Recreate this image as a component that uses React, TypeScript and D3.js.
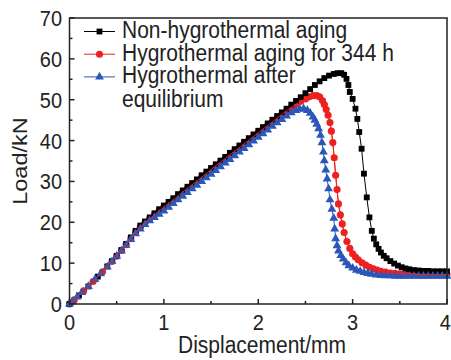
import React from "react";
import * as d3 from "d3";

type Pt = [number, number];

// Load–displacement records (displacement in mm, load in kN)
const nonAged: Pt[] = [
  [0, 0], [0.1, 2.1], [0.2, 4.3], [0.3, 6.7], [0.4, 9.2], [0.45, 10.5], [0.5, 11.8], [0.55, 13.2],
  [0.6, 14.7], [0.65, 16.3], [0.7, 17.9], [0.75, 19.2], [0.8, 20.2], [0.85, 21.2], [0.9, 22.2],
  [0.95, 23.2], [1.0, 24.1], [1.05, 25.0], [1.1, 25.9], [1.15, 26.9], [1.2, 27.8], [1.25, 28.7],
  [1.3, 29.6], [1.35, 30.5], [1.4, 31.5], [1.45, 32.4], [1.5, 33.3], [1.55, 34.2], [1.6, 35.1],
  [1.65, 36.0], [1.7, 37.0], [1.75, 37.9], [1.8, 38.8], [1.85, 39.7], [1.9, 40.6], [1.95, 41.5],
  [2.0, 42.4], [2.05, 43.3], [2.1, 44.2], [2.15, 45.1], [2.2, 46.0], [2.25, 46.9], [2.3, 47.8],
  [2.35, 48.8], [2.4, 49.7], [2.45, 50.6], [2.5, 51.6], [2.55, 52.6], [2.6, 53.6], [2.65, 54.5],
  [2.7, 55.3], [2.75, 55.9], [2.8, 56.3], [2.84, 56.5], [2.88, 56.5], [2.91, 56.1], [2.935, 55.1],
  [2.955, 53.6], [2.97, 51.9], [3.0, 50.2], [3.03, 47.8], [3.05, 45.3], [3.07, 42.1], [3.095, 38.0],
  [3.12, 31.9], [3.15, 26.1], [3.178, 21.2], [3.203, 17.9], [3.225, 16.0], [3.25, 14.6],
  [3.275, 13.5], [3.3, 12.6], [3.33, 11.8], [3.36, 11.2], [3.4, 10.5], [3.44, 9.9], [3.48, 9.4],
  [3.52, 9.0], [3.56, 8.7], [3.6, 8.5], [3.65, 8.3], [3.7, 8.2], [3.75, 8.1], [3.8, 8.1],
  [3.85, 8.0], [3.9, 8.0], [3.95, 8.0], [4.0, 8.0],
];

const aged344h: Pt[] = [
  [0, 0], [0.05, 1.0], [0.15, 3.2], [0.25, 5.5], [0.35, 7.9], [0.45, 10.4], [0.5, 11.7],
  [0.55, 13.1], [0.6, 14.5], [0.65, 16.0], [0.7, 17.5], [0.75, 18.8], [0.8, 19.9], [0.85, 20.9],
  [0.9, 21.8], [0.95, 22.8], [1.0, 23.7], [1.05, 24.6], [1.1, 25.5], [1.15, 26.4], [1.2, 27.4],
  [1.25, 28.3], [1.3, 29.2], [1.35, 30.1], [1.4, 31.0], [1.45, 31.9], [1.5, 32.9], [1.55, 33.8],
  [1.6, 34.7], [1.65, 35.6], [1.7, 36.5], [1.75, 37.4], [1.8, 38.3], [1.85, 39.2], [1.9, 40.1],
  [1.95, 41.0], [2.0, 41.9], [2.05, 42.8], [2.1, 43.7], [2.15, 44.6], [2.2, 45.5], [2.25, 46.4],
  [2.3, 47.3], [2.35, 48.1], [2.4, 48.9], [2.45, 49.6], [2.5, 50.2], [2.54, 50.7], [2.58, 51.0],
  [2.62, 51.0], [2.65, 50.7], [2.68, 49.8], [2.7, 48.8], [2.72, 47.6], [2.74, 46.2], [2.76, 44.4],
  [2.775, 42.3], [2.79, 39.5], [2.805, 35.8], [2.82, 31.5], [2.835, 28.0], [2.85, 24.5],
  [2.87, 21.8], [2.89, 19.6], [2.91, 17.5], [2.94, 15.3], [2.97, 13.6], [3.0, 12.3], [3.03, 11.5],
  [3.06, 10.8], [3.1, 10.1], [3.14, 9.5], [3.18, 9.0], [3.22, 8.6], [3.26, 8.3], [3.3, 8.0],
  [3.35, 7.8], [3.4, 7.6], [3.45, 7.5], [3.5, 7.4], [3.55, 7.35], [3.6, 7.3], [3.65, 7.3],
  [3.7, 7.2], [3.75, 7.2], [3.8, 7.2], [3.85, 7.2], [3.9, 7.2], [3.95, 7.2], [4.0, 7.2],
];

const agedEquilibrium: Pt[] = [
  [0, 0], [0.03, 0.6], [0.08, 1.7], [0.13, 2.8], [0.2, 4.3], [0.27, 6.0], [0.33, 7.4], [0.4, 9.1],
  [0.45, 10.4], [0.5, 11.7], [0.55, 13.0], [0.6, 14.4], [0.65, 15.8], [0.7, 17.2], [0.75, 18.4],
  [0.8, 19.5], [0.85, 20.4], [0.9, 21.2], [0.95, 22.0], [1.0, 22.8], [1.05, 23.7], [1.1, 24.6],
  [1.15, 25.5], [1.2, 26.4], [1.25, 27.3], [1.3, 28.2], [1.35, 29.1], [1.4, 30.0], [1.45, 30.9],
  [1.5, 31.8], [1.55, 32.7], [1.6, 33.6], [1.65, 34.5], [1.7, 35.4], [1.75, 36.3], [1.8, 37.2],
  [1.85, 38.1], [1.9, 39.0], [1.95, 39.9], [2.0, 40.8], [2.05, 41.7], [2.1, 42.6], [2.15, 43.5],
  [2.2, 44.4], [2.25, 45.2], [2.3, 46.0], [2.35, 46.8], [2.4, 47.4], [2.44, 47.7], [2.48, 47.8],
  [2.52, 47.4], [2.55, 46.7], [2.58, 45.8], [2.6, 45.0], [2.62, 44.0], [2.64, 42.9], [2.66, 41.3],
  [2.675, 39.5], [2.69, 37.2], [2.7, 35.1], [2.715, 32.8], [2.73, 30.6], [2.745, 28.2],
  [2.76, 25.5], [2.78, 23.2], [2.8, 21.0], [2.81, 18.4], [2.82, 16.0], [2.835, 14.3], [2.85, 13.0],
  [2.875, 11.9], [2.9, 11.0], [2.93, 10.1], [2.96, 9.4], [3.0, 8.8], [3.04, 8.3], [3.08, 8.0],
  [3.12, 7.7], [3.16, 7.5], [3.2, 7.3], [3.25, 7.1], [3.3, 7.0], [3.35, 6.9], [3.4, 6.9],
  [3.45, 6.8], [3.5, 6.8], [3.55, 6.8], [3.6, 6.8], [3.65, 6.8], [3.7, 6.8], [3.75, 6.8],
  [3.8, 6.8], [3.85, 6.8], [3.9, 6.8], [3.95, 6.8], [4.0, 6.8],
];

const seriesNames = [
  ["Non-hygrothermal aging"],
  ["Hygrothermal aging for 344 h"],
  ["Hygrothermal after", "equilibrium"],
];

const xTicks = [0, 1, 2, 3, 4];
const yTicks = [0, 10, 20, 30, 40, 50, 60, 70];

const W = 451;
const H = 360;
const FONT = "'Liberation Sans', Arial, Helvetica, sans-serif";
const STRETCH = 1.12; // glyphs are drawn slightly taller than wide

function Label(props: {
  x: number;
  y: number;
  size: number;
  anchor?: "start" | "middle" | "end";
  rotate?: number;
  children: React.ReactNode;
}) {
  const { x, y, size, anchor = "start", rotate = 0, children } = props;
  return (
    <text
      transform={`translate(${x},${y}) rotate(${rotate}) scale(1,${STRETCH})`}
      textAnchor={anchor}
      fontFamily={FONT}
      fontSize={size}
      fill="#222"
    >
      {children}
    </text>
  );
}

export default function App() {
  const x = d3.scaleLinear().domain([0, 4]).range([69.5, 447]);
  const y = d3.scaleLinear().domain([0, 70]).range([304, 18]);

  const line = d3
    .line<Pt>()
    .x((d) => x(d[0]))
    .y((d) => y(d[1]));

  const series = [
    { data: aged344h, color: "#ee2020", shape: d3.symbolCircle, size: 40, legend: 1 },
    { data: nonAged, color: "#000000", shape: d3.symbolSquare, size: 34, legend: 0 },
    { data: agedEquilibrium, color: "#2a57b8", shape: d3.symbolTriangle, size: 34, legend: 2 },
  ];

  const minorX = d3.range(0.5, 4, 1);
  const minorY = d3.range(5, 70, 10);
  const [x0, x1] = x.range();
  const [y0, y1] = y.range();

  return (
    <svg width={W} height={H} style={{ display: "block", position: "absolute", left: 0, top: 0, background: "#fff" }}>
      {/* curves */}
      {series.map((s, i) => (
        <g key={i}>
          <path d={line(s.data) ?? ""} fill="none" stroke={s.color} strokeWidth={1} />
          {s.data.map((d, j) => (
            <path
              key={j}
              transform={`translate(${x(d[0])},${y(d[1])})`}
              d={d3.symbol().type(s.shape).size(s.size)() ?? ""}
              fill={s.color}
            />
          ))}
        </g>
      ))}
      {/* thin red line stays visible over the bands */}
      <path d={line(aged344h) ?? ""} fill="none" stroke="#ee2020" strokeWidth={1} />

      {/* frame */}
      <rect x={x0} y={y1} width={x1 - x0} height={y0 - y1} fill="none" stroke="#222" strokeWidth={1.5} />

      {/* x ticks */}
      {xTicks.map((t) => (
        <g key={`xt${t}`}>
          <line x1={x(t)} x2={x(t)} y1={y0} y2={y0 - 5} stroke="#222" strokeWidth={1.5} />
          <Label x={t === 4 ? 451 : x(t)} y={330} size={20} anchor={t === 4 ? "end" : "middle"}>
            {t}
          </Label>
        </g>
      ))}
      {minorX.map((t) => (
        <line key={`xm${t}`} x1={x(t)} x2={x(t)} y1={y0} y2={y0 - 3} stroke="#222" strokeWidth={1.5} />
      ))}

      {/* y ticks */}
      {yTicks.map((t) => (
        <g key={`yt${t}`}>
          <line x1={x0} x2={x0 + 5} y1={y(t)} y2={y(t)} stroke="#222" strokeWidth={1.5} />
          <Label x={62} y={y(t) + 8} size={20} anchor="end">
            {t}
          </Label>
        </g>
      ))}
      {minorY.map((t) => (
        <line key={`ym${t}`} x1={x0} x2={x0 + 3} y1={y(t)} y2={y(t)} stroke="#222" strokeWidth={1.5} />
      ))}

      {/* axis titles */}
      <Label x={262} y={353} size={21} anchor="middle">
        Displacement/mm
      </Label>
      <text
        transform={`translate(27,161) rotate(-90) scale(${STRETCH},1)`}
        textAnchor="middle"
        fontFamily={FONT}
        fontSize={21}
        fill="#222"
      >
        Load/kN
      </text>

      {/* legend */}
      {[1, 0, 2].map((idx) => {
        const s = series.find((q) => q.legend === idx)!;
        const cy = 31.5 + idx * 22.7;
        return (
          <g key={`lg${idx}`}>
            <line x1={84} x2={115} y1={cy} y2={cy} stroke={s.color} strokeWidth={1} />
            <path
              transform={`translate(99.5,${cy})`}
              d={d3.symbol().type(s.shape).size(s.size)() ?? ""}
              fill={s.color}
            />
            {seriesNames[idx].map((ln, k) => (
              <Label key={k} x={122} y={cy + 6.5 + k * 23.3} size={21}>
                {ln}
              </Label>
            ))}
          </g>
        );
      })}
    </svg>
  );
}
